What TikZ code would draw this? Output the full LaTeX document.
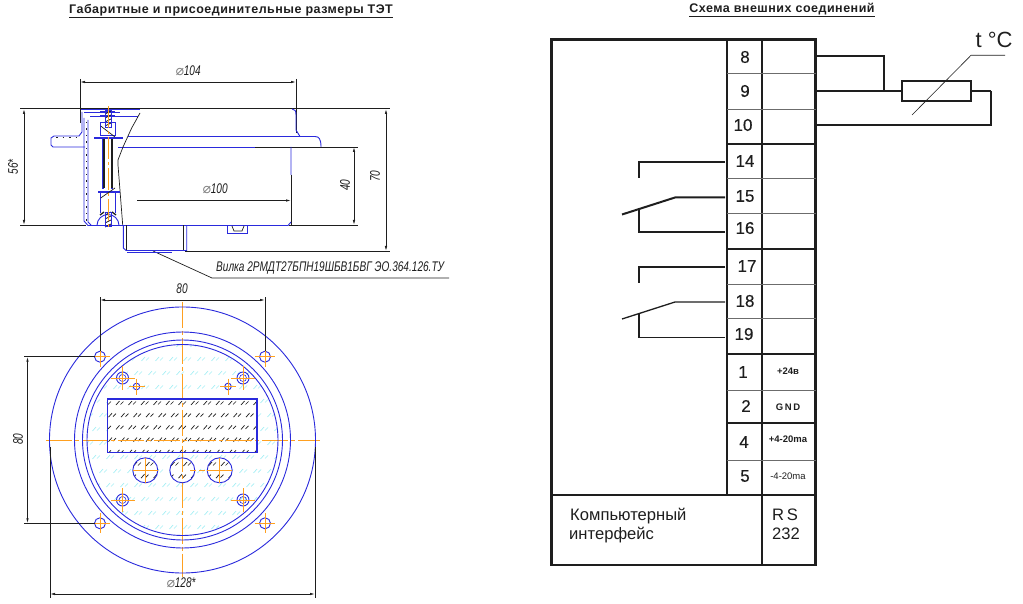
\documentclass[tikz,border=0pt]{standalone}
\usepackage{fontspec}
\usepackage{graphicx}
\setmainfont{Liberation Sans}
\newfontfamily\symfont{DejaVu Sans}
\newfontfamily\wideboldfont[LetterSpace=4]{Liberation Sans Bold}
\newfontfamily\termfont[FakeBold=0.35]{Liberation Sans}
\usetikzlibrary{arrows.meta}
\definecolor{mechblue}{HTML}{2A2ADC}
\definecolor{axisorange}{HTML}{FFA020}
\definecolor{glasscyan}{HTML}{A6EEF4}
\definecolor{inkgrey}{HTML}{1E1E1E}
\newcommand{\dimtext}[1]{\scalebox{0.72}[1]{\itshape #1}}
\newcommand{\diam}{{\symfont\color{gray}\itshape\char"2300}}
\tikzset{
  titletext/.style={font=\wideboldfont\fontsize{12.5}{14}\selectfont,text=inkgrey},
  mech/.style={draw=mechblue,line width=.9pt},
  mechthick/.style={draw=mechblue,line width=1.8pt},
  dimline/.style={draw=inkgrey,line width=.7pt},
  dimarrow/.style={dimline,{Latex[length=5pt,width=2.4pt]}-{Latex[length=5pt,width=2.4pt]}},
  axis/.style={draw=axisorange,line width=.8pt,dash pattern=on 22pt off 3pt on 3pt off 3pt},
  cross/.style={draw=axisorange,line width=.8pt},
  dimlabel/.style={font=\fontsize{14}{16}\selectfont,text=inkgrey,inner sep=0pt},
  termnum/.style={font=\termfont\fontsize{17}{19}\selectfont,text=inkgrey,inner sep=0pt},
  smalllabel/.style={font=\bfseries\fontsize{9.5}{10}\selectfont,text=inkgrey,inner sep=0pt},
  bigtext/.style={font=\fontsize{16.6}{18}\selectfont,text=inkgrey,inner sep=0pt,anchor=west},
  frame/.style={draw=inkgrey,line width=2.6pt},
  rowthin/.style={draw=gray!85!black,line width=1pt},
  wirethick/.style={draw=inkgrey,line width=2.6pt},
  glassmark/.pic={\draw[line width=.7pt] (-3.5,2) -- (0,-2) (1,1.5) -- (4,-1.5);},
}
\begin{document}
\begin{tikzpicture}[x=1pt,y=-1pt]
  \useasboundingbox (0,0) rectangle (1023,604);
  \node[titletext] (titledims) at (231,11) {\underline{Габаритные и присоединительные размеры ТЭТ}};
  \node[titletext] (titlelinks) at (782,10) {\underline{Схема внешних соединений}};

  % side view
  \draw[dimline] (20,108.7) -- (390,108.7);
  \draw[dimline] (20,225.5) -- (86,225.5) (289,225.5) -- (358,225.5);
  \draw[dimline] (185,251) -- (390,251);
  \draw[dimline] (255,147) -- (358,147) (291,175) -- (291,225);
  \draw[dimline] (80,79) -- (80,123) (296,79) -- (296,133);
  \draw[dimarrow] (80,82) -- (296,82);
  \draw[dimarrow] (24,109) -- (24,225);
  \draw[dimarrow] (354,147) -- (354,225);
  \draw[dimarrow] (386,109) -- (386,251);
  \draw[dimline,-{Latex[length=5pt,width=2.4pt]}] (137,200.5) -- (291,200.5);
  \draw[dimline] (153,251) -- (212,278) -- (449,278);
  \node[dimlabel] (d104) at (188,71) {\diam\dimtext{104}};
  \node[dimlabel] (d100) at (215,189) {\diam\dimtext{100}};
  \node[dimlabel,rotate=90] (h56) at (13,167) {\dimtext{56*}};
  \node[dimlabel,rotate=90] (h40) at (345,185) {\dimtext{40}};
  \node[dimlabel,rotate=90] (h70) at (375,176) {\dimtext{70}};
  \node[dimlabel,anchor=west] (plug) at (216,268) {\dimtext{Вилка 2РМДТ27БПН19ШБВ1БВГ ЭО.364.126.ТУ}};

  \draw[mech] (81,109.5) -- (140,109.5) (84,112) -- (120,112);
  \draw[mech] (82,112) -- (82,132) -- (79,136) -- (54,136) -- (51,138) -- (51,145) -- (53,147) -- (85,147);
  \draw[mech] (84,118) -- (84,221) -- (88,225.5) -- (122,225.5);
  \draw[mech] (88,120) -- (88,222) -- (91,225);
  \draw[mech] (90,116.5) -- (138,116.5);
  \draw[mech] (128,136.5) -- (300,136.5) -- (296,130) -- (296,115) .. controls (296,111) and (295,109) .. (292,109);
  \draw[mech] (300,136.5) -- (315,136.5) .. controls (319,136.5) and (321,139) .. (321,147);
  \draw[mech] (118,147) -- (255,147);
  \draw[mech] (291,147) -- (291,175) (122,225.5) -- (288,225.5) -- (291,222);
  \draw[dimline,line width=1.4pt] (171,108.7) -- (188,108.7);
  \draw[dimline] (140,113) -- (131.7,128) -- (123,147) -- (118,160) -- (118,165) -- (122.7,225);
  \draw[inkgrey,dash pattern=on 1.5pt off 5pt,line width=.8pt] (86,122) -- (86,222) (56,137.5) -- (80,137.5);

  \draw[mech] (123.3,225.5) -- (123.3,248) -- (126,250.5) -- (186.7,250.5) -- (186.7,225.5);
  \draw[mech] (127,252.5) -- (172,252.5);
  \draw[dimline,line width=1pt] (126.7,225.5) -- (126.7,250) (183.3,225.5) -- (183.3,250);
  \draw[mech] (227.7,226) -- (227.7,233) -- (247.7,233) -- (247.7,226);
  \draw[dimline] (232,226) -- (234,231) -- (242,231) -- (244,226);

  \draw[mech] (100,111) -- (115,111) (100,115) -- (115,115);
  \draw[mech] (100.7,122) rectangle (115,135);
  \draw[mechthick] (94,137.7) -- (123,137.7) (98,191.7) -- (120,191.7);
  \draw[mechthick] (103.3,138) -- (103.3,189) (111.7,138) -- (111.7,189);
  \draw[dimline,line width=1.2pt] (104,139) -- (104,188) (112,139) -- (112,188);
  \draw[mech] (100.7,193) -- (100.7,213) (115,193) -- (115,213);
  \draw[dimline] (100.7,126) -- (115,137) (100.7,198) -- (115,188);
  \draw[mech] (97,225.5) arc[start angle=180,end angle=360,x radius=11,y radius=11];
  \draw[dimline,line width=1.3pt] (100,215) -- (104,212) (112,212) -- (116,215);
  \foreach \ystart in {111,115,119,123,212,216,220,224}
    \draw[inkgrey,line width=.7pt] (105,\ystart+3) -- (111,\ystart);
  \draw[mech] (105,110) rectangle (111.5,127) (105,212) rectangle (111,226);
  \draw[axis] (108,106) -- (108,227);

  % front view
  \begin{scope}
    \clip (182.5,440) circle (95);
    \foreach \i in {0,...,14}
      \foreach \j in {0,...,14}
        \pic[draw=glasscyan] at ({82+14*\i+7*mod(\j,2)},{345+14*\j}) {glassmark};
  \end{scope}
  \fill[white] (107.7,399) rectangle (257,452.3);
  \foreach \btnx in {145.3,182.3,219.7}
    \fill[white] (\btnx,470.3) circle (12.5);
  \begin{scope}
    \clip (107.7,399) rectangle (257,452.3)
      (145.3,470.3) circle (12.5) (182.3,470.3) circle (12.5) (219.7,470.3) circle (12.5);
    \foreach \i in {0,...,14}
      \foreach \j in {0,...,7}
        \pic[draw=inkgrey] at ({107+12.5*\i+5*mod(\j,2)},{403+12.2*\j}) {glassmark};
  \end{scope}

  \draw[axis,dash pattern=on 26pt off 3pt on 4pt off 3pt] (46,440.3) -- (320,440.3);
  \draw[axis,dash pattern=on 26pt off 3pt on 4pt off 3pt] (182.3,301.7) -- (182.3,577);
  \draw[mech] (182.5,440) circle (133);
  \draw[mech] (182.5,440) circle (108);
  \draw[mech] (182.5,440) circle (100);
  \draw[mech] (182.5,440) circle (95.5);
  \draw[mech,line width=1.3pt] (107.7,399) rectangle (257,452.3);
  \foreach \btnx in {145.3,182.3,219.7} {
    \draw[mech] (\btnx,470.3) circle (12.5);
  }
  \draw[cross] (133,470.3) -- (158,470.3) (145.3,458) -- (145.3,483);
  \draw[cross] (207,470.3) -- (232,470.3) (219.7,458) -- (219.7,483);
  \draw[axis,dash pattern=on 6pt off 3pt] (190,470.3) -- (207,470.3);
  \foreach \holex/\holey in {100/356.7,265/356.7,100/523.3,265/523.3} {
    \draw[mech] (\holex,\holey) circle (5.5);
    \draw[cross] (\holex-10,\holey) -- (\holex+10,\holey) (\holex,\holey-10) -- (\holex,\holey+10);
  }
  \foreach \holex/\holey in {122.5/378,243/378,122.5/500,243/500} {
    \draw[mech] (\holex,\holey) circle (6);
    \draw[mech,line width=.6pt] (\holex,\holey) circle (3.5);
    \draw[cross] (\holex-12,\holey) -- (\holex+12,\holey) (\holex,\holey-12) -- (\holex,\holey+12);
  }
  \foreach \holex/\holey in {136.5/386.5,228/386.5} {
    \draw[mech] (\holex,\holey) circle (3.3);
    \draw[cross] (\holex-8,\holey) -- (\holex+8,\holey) (\holex,\holey-8) -- (\holex,\holey+8);
  }
  \draw[dimline] (100,297) -- (100,351) (265,297) -- (265,351);
  \draw[dimarrow] (100,300) -- (265,300);
  \draw[dimline] (24,356.7) -- (95,356.7) (24,523.3) -- (95,523.3);
  \draw[dimarrow] (27.5,356.7) -- (27.5,523.3);
  \draw[dimline] (50,447) -- (50,598) (315,447) -- (315,598);
  \draw[dimarrow] (50,594) -- (315,594);
  \node[dimlabel] (w80) at (182,289) {\dimtext{80}};
  \node[dimlabel,rotate=90] (v80) at (18,439) {\dimtext{80}};
  \node[dimlabel] (d128) at (181,583) {\diam\dimtext{128*}};

  % terminal block
  \draw[frame] (551.5,39.5) rectangle (815.5,565);
  \draw[frame] (727,39.5) -- (727,495) (762,39.5) -- (762,565) (551.5,495) -- (815.5,495);
  \foreach \rowy in {74,110,179,214,284,318,390,460}
    \draw[rowthin] (727,\rowy) -- (815.5,\rowy);
  \foreach \rowy in {144,249.5,354,423}
    \draw[frame,line width=2pt] (727,\rowy) -- (815.5,\rowy);
  \foreach \num/\numx/\numy in {8/745/57,9/745/91,10/743/125,14/745/161,15/745/196,16/745/228,17/747/266,
      18/745/301,19/744/334,1/743/372,2/746/406,4/744/442,5/745/476}
    \node[termnum] (term\num) at (\numx,\numy) {\num};
  \node[smalllabel] (vplus) at (788,371) {+24в};
  \node[smalllabel] (gnd) at (788,407) {G\,N\,D};
  \node[smalllabel] (iplus) at (788,439) {+4-20ma};
  \node[smalllabel,font=\fontsize{9.5}{10}\selectfont] (iminus) at (788,476) {-4-20ma};
  \node[bigtext] (pc1) at (570,516) {Компьютерный};
  \node[bigtext] (pc2) at (569,535) {интерфейс};
  \node[bigtext] (rs) at (772,515) {R\,S};
  \node[bigtext] (rs232) at (772,534) {232};

  % sensor
  \coordinate (out8) at (815,56);
  \coordinate (out9) at (815,91);
  \coordinate (out10) at (815,125);
  \coordinate (tee) at (884,91);
  \coordinate (back) at (990.7,91);
  \node[draw=inkgrey,line width=2pt,minimum width=69pt,minimum height=20pt,inner sep=0pt] (rsensor) at (936,91) {};
  \node[font=\fontsize{22}{24}\selectfont,text=inkgrey,inner sep=0pt] (tempc) at (994,40) {t °C};
  \coordinate (slashA) at (912,115);
  \coordinate (slashB) at (971,55.3);
  \coordinate (slashC) at (1005,55.3);
  \draw[inkgrey,line width=1.8pt] (out8) -| (tee);
  \draw[wirethick] (out9) -- (rsensor.west);
  \draw[wirethick] (rsensor.east) -- (back);
  \draw[inkgrey,line width=1.8pt] (back) |- (out10);
  \draw[dimline,line width=.6pt] (slashA) -- (slashB) -- (slashC);

  % relay contacts
  \foreach \top/\topy/\arm/\army/\low/\lowy/\wirew in {a/162/b/197.5/c/232/2pt,d/267/e/302/f/337.5/1.3pt} {
    \coordinate (left\top) at (725,\topy);
    \coordinate (left\arm) at (725,\army);
    \coordinate (left\low) at (725,\lowy);
    \coordinate (stop\top) at (639,\topy+16);
    \coordinate (knee\arm) at (675,\army);
    \coordinate (tip\arm) at (622,\army+17);
    \coordinate (stop\low) at (639,\lowy-24);
    \draw[inkgrey,line width=\wirew] (left\top) -| (stop\top);
    \draw[inkgrey,line width=\wirew] (left\arm) -- (knee\arm) -- (tip\arm);
    \draw[inkgrey,line width=\wirew] (left\low) -| (stop\low);
  }
\end{tikzpicture}
\end{document}
